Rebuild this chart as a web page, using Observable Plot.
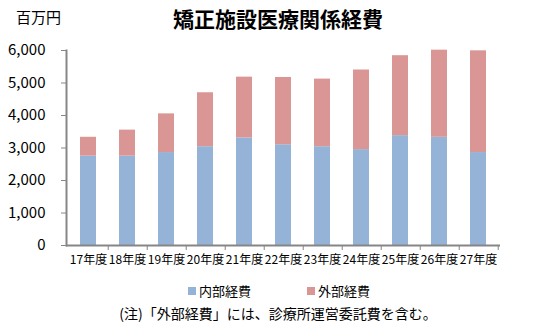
<!DOCTYPE html>
<html><head><meta charset="utf-8">
<script src="https://cdn.jsdelivr.net/npm/d3@7"></script>
<script src="https://cdn.jsdelivr.net/npm/@observablehq/plot@0.6"></script>
<style>
html,body{margin:0;padding:0;background:#fff;}
#wrap{position:relative;width:544px;height:326px;overflow:hidden;font-family:"Noto Sans CJK JP","Noto Sans",sans-serif;color:#000;}
#title{position:absolute;left:0;width:556px;top:4px;text-align:center;font-size:21px;font-weight:bold;line-height:28px;}
#unit{position:absolute;left:16px;top:7px;font-size:15px;line-height:20px;}
#chart{position:absolute;left:0;top:36px;}
#legend{position:absolute;top:282px;left:0;width:544px;font-size:13px;line-height:18px;}
.li{position:absolute;display:flex;align-items:center;}
.sw{width:8px;height:8px;margin-right:3px;}
#caption{position:absolute;top:303px;left:0;width:556px;text-align:center;font-size:14px;line-height:20px;}
</style></head>
<body><div id="wrap">
<div id="unit">百万円</div>
<div id="title">矯正施設医療関係経費</div>
<div id="chart"></div>
<div id="legend"></div>
<div id="caption">(注)「外部経費」には、診療所運営委託費を含む。</div>
</div>
<script>
const years = ["17年度","18年度","19年度","20年度","21年度","22年度","23年度","24年度","25年度","26年度","27年度"];
const internal = [2750,2750,2860,3040,3310,3100,3040,2950,3380,3330,2860];
const external = [580,800,1190,1660,1870,2070,2080,2450,2460,2680,3130];
const seriesNames = ["内部経費","外部経費"];
const seriesColors = ["#95B3D7","#D99694"];
const yTicks = [0,1000,2000,3000,4000,5000,6000];

const data = [
  ...years.map((y,i)=>({year:y, series:seriesNames[0], value:internal[i]})),
  ...years.map((y,i)=>({year:y, series:seriesNames[1], value:external[i]}))
];

const W = 544, H = 239, ML = 66, MR = 44, MT = 14, MB = 30;
const pInner = 0.6, pOuter = 0.3;
const step = (W - ML - MR) / (years.length - pInner + 2*pOuter);

const chart = Plot.plot({
  width: W, height: H,
  marginLeft: ML, marginRight: MR, marginTop: MT, marginBottom: MB,
  style: {fontFamily: '"Noto Sans CJK JP","Noto Sans",sans-serif', color:"#000", background:"#fff"},
  x: {domain: years, paddingInner: pInner, paddingOuter: pOuter, label: null},
  y: {domain: [0,6000], label: null},
  color: {domain: seriesNames, range: seriesColors},
  marks: [
    Plot.barY(data, {x:"year", y:"value", fill:"series"}),
    Plot.axisY({ticks: yTicks, tickFormat: d3.format(","), tickSize: 5, tickPadding: 16, fontSize: 15, stroke:"#868686", strokeWidth:1, label:null}),
    Plot.axisX({tickSize: 0, tickPadding: 10, fontSize: 12, label:null}),
    Plot.axisX({ticks: years, tickFormat: () => "", tickSize: 5, dx: step/2, stroke:"#868686", label:null}),
    Plot.frame({anchor:"left", stroke:"#868686", strokeWidth:2}),
    Plot.ruleY([0], {stroke:"#868686", strokeWidth:2})
  ]
});
document.getElementById("chart").appendChild(chart);

const legend = document.getElementById("legend");
const lx = [188, 307];
seriesNames.forEach((n,i)=>{
  const d = document.createElement("div");
  d.className = "li";
  d.style.left = lx[i] + "px";
  d.innerHTML = `<span class="sw" style="background:${seriesColors[i]}"></span><span>${n}</span>`;
  legend.appendChild(d);
});
</script>
</body></html>
